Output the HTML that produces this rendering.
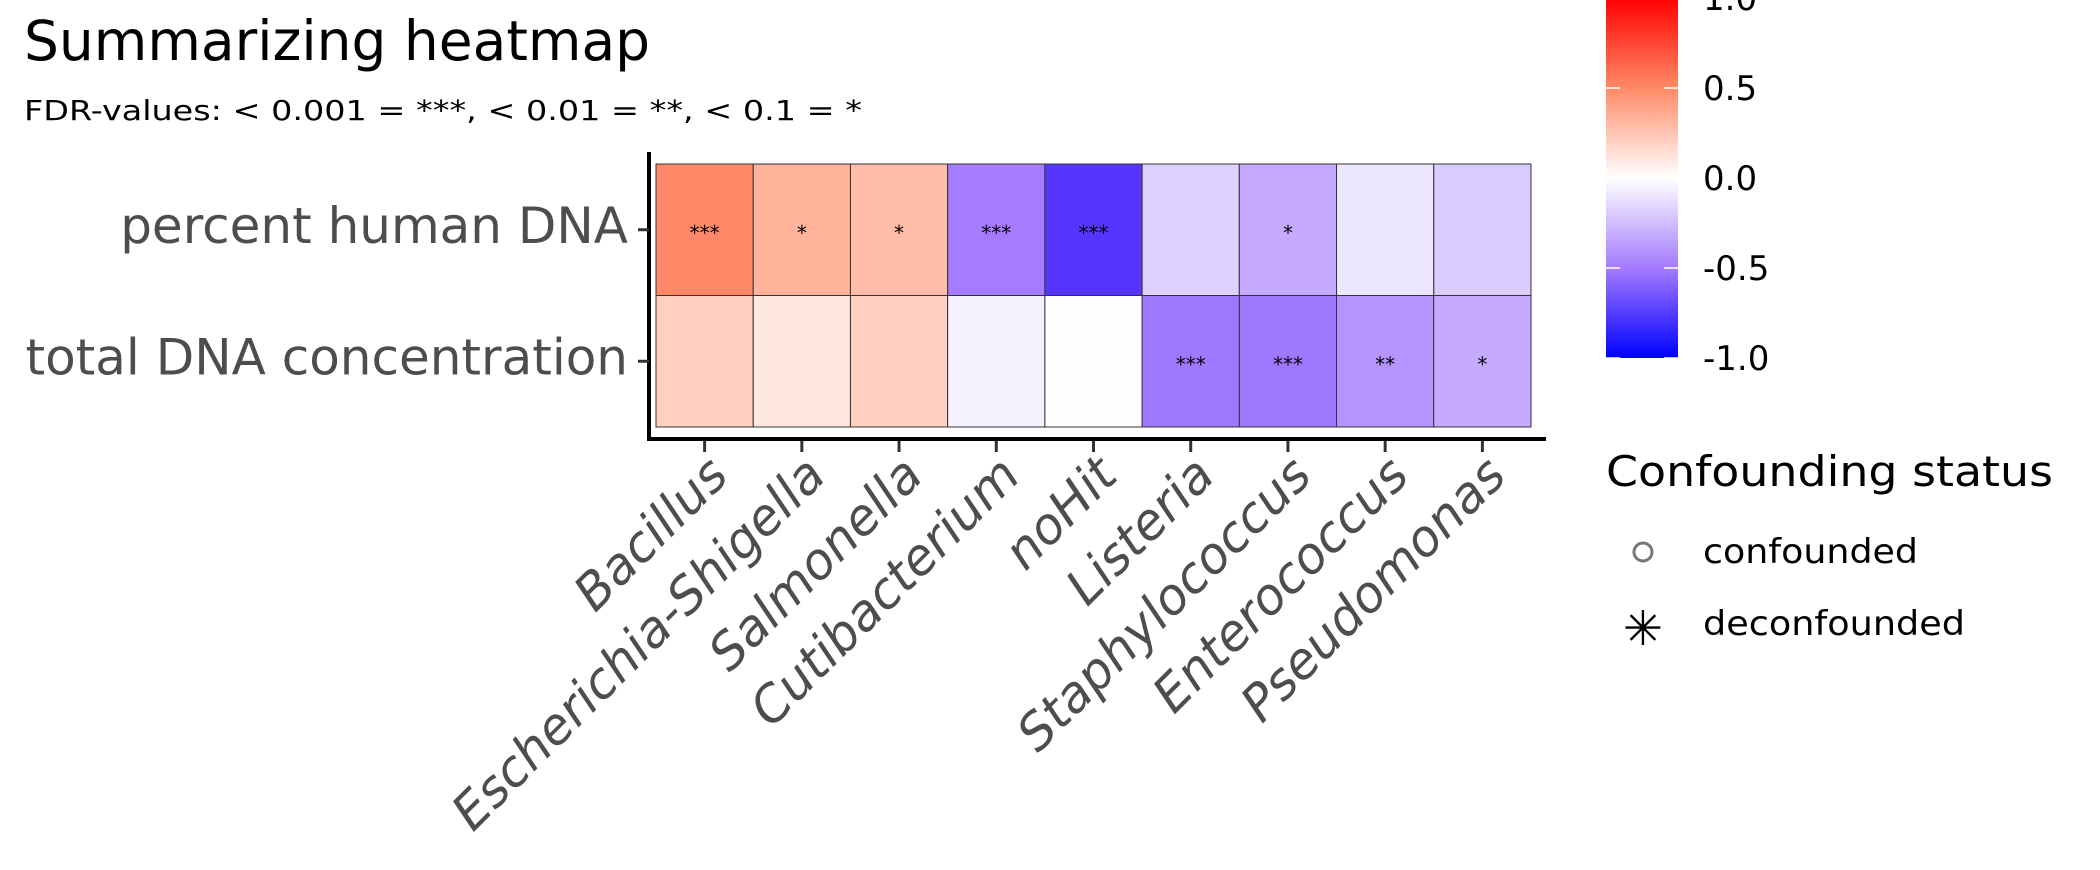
<!DOCTYPE html>
<html><head><meta charset="utf-8"><style>
html,body{margin:0;padding:0;background:#fff;}
svg{display:block;font-family:"DejaVu Sans","Liberation Sans",sans-serif;}
</style></head><body>
<svg id="chart" width="2100" height="870" viewBox="0 0 2100 870" xmlns="http://www.w3.org/2000/svg">
<defs>
<linearGradient id="cbar" x1="0" y1="0" x2="0" y2="1">
<stop offset="0" stop-color="#ff0000"/>
<stop offset="0.25" stop-color="#ff8a66"/>
<stop offset="0.5" stop-color="#ffffff"/>
<stop offset="0.75" stop-color="#a57bff"/>
<stop offset="1" stop-color="#0000ff"/>
</linearGradient>
</defs>
<text x="24" y="60" font-size="55" fill="#000">Summarizing heatmap</text>
<text x="24" y="120" font-size="28" fill="#000" textLength="838" lengthAdjust="spacingAndGlyphs">FDR-values: &lt; 0.001 = ***, &lt; 0.01 = **, &lt; 0.1 = *</text>
<g id="plot"></g>
<g>
<rect x="1606" y="-2" width="72" height="360" fill="url(#cbar)"/>
<g id="cbticks"></g>
</g>
<g>
<text x="1606" y="486" font-size="42" fill="#000" textLength="447" lengthAdjust="spacingAndGlyphs">Confounding status</text>
<circle cx="1643" cy="552" r="9" fill="none" stroke="#777" stroke-width="3"/>
<text x="1703" y="563" font-size="34" fill="#000" textLength="215" lengthAdjust="spacingAndGlyphs">confounded</text>
<text x="1643" y="645" font-size="48" text-anchor="middle" fill="#000">✳</text>
<text x="1703" y="635" font-size="34" fill="#000" textLength="262" lengthAdjust="spacingAndGlyphs">deconfounded</text>
</g>
</svg>
<script>
const categories = ["Bacillus","Escherichia-Shigella","Salmonella","Cutibacterium","noHit","Listeria","Staphylococcus","Enterococcus","Pseudomonas"];
const rows = ["percent human DNA","total DNA concentration"];
const humanValues = [0.62,0.40,0.35,-0.50,-0.80,-0.22,-0.35,-0.12,-0.24];
const concValues = [0.25,0.12,0.25,-0.06,-0.01,-0.52,-0.52,-0.42,-0.35];
const humanStars = ["***","*","*","***","***","","*","",""];
const concStars = ["","","","","","***","***","**","*"];
const cbTicks = [1.0,0.5,0.0,-0.5,-1.0];
const cbLabels = ["1.0","0.5","0.0","-0.5","-1.0"];

const NS="http://www.w3.org/2000/svg";
const X0=656, X1=1531, Y0=164, Y1=427;
const colW=(X1-X0)/categories.length, rowH=(Y1-Y0)/rows.length;
function xPos(i){return X0+i*colW;}
function yPos(j){return Y0+j*rowH;}
function cbY(v){return 178-v*180;}
function lerp(a,b,t){return a+(b-a)*t;}
const redA=[[0,[255,255,255]],[0.25,[255,208,192]],[0.5,[255,160,130]],[0.75,[255,110,75]],[1,[255,0,0]]];
const blueA=[[0,[255,255,255]],[0.25,[218,202,255]],[0.5,[165,123,255]],[0.75,[108,68,255]],[1,[0,0,255]]];
function color(v){
  const A=v>=0?redA:blueA; const t=Math.min(1,Math.abs(v));
  for(let k=1;k<A.length;k++){ if(t<=A[k][0]){ const f=(t-A[k-1][0])/(A[k][0]-A[k-1][0]);
    const c=A[k-1][1].map((x,i)=>Math.round(lerp(x,A[k][1][i],f))); return `rgb(${c.join(",")})`; } }
  return `rgb(${A[A.length-1][1].join(",")})`;
}
function mk(tag,attrs,parent){const e=document.createElementNS(NS,tag);for(const k in attrs)e.setAttribute(k,attrs[k]);parent.appendChild(e);return e;}
const plot=document.getElementById('plot');
const series=[humanValues,concValues], stars=[humanStars,concStars];
for(let j=0;j<rows.length;j++){
  for(let i=0;i<categories.length;i++){
    const r=mk('rect',{x:xPos(i),y:yPos(j),width:colW,height:rowH,fill:color(series[j][i]),stroke:'#333','stroke-width':1},plot);
    
    
    if(stars[j][i]){
      const t=mk('text',{x:xPos(i)+colW/2,y:yPos(j)+rowH/2+10,'font-size':20,'text-anchor':'middle',fill:'#000'},plot);
      t.textContent=stars[j][i];
      
      
    }
  }
}
const ya=mk('line',{x1:649,y1:152,x2:649,y2:441,stroke:'#000','stroke-width':4},plot);


const xa=mk('line',{x1:647,y1:439,x2:1546,y2:439,stroke:'#000','stroke-width':4},plot);


for(let j=0;j<rows.length;j++){
  const cy=yPos(j)+rowH/2;
  const tk=mk('line',{x1:638,y1:cy,x2:649,y2:cy,stroke:'#333','stroke-width':3},plot);
  
  
  const t=mk('text',{x:628,y:cy+13,'font-size':50,'text-anchor':'end',fill:'#4d4d4d'},plot);
  t.textContent=rows[j];
  
  
}
for(let i=0;i<categories.length;i++){
  const cx=xPos(i)+colW/2;
  const tk=mk('line',{x1:cx,y1:441,x2:cx,y2:452,stroke:'#333','stroke-width':3},plot);
  
  
  const ax=cx+26, ay=478;
  const t=mk('text',{x:ax,y:ay,'font-size':50,'font-style':'italic','text-anchor':'end',fill:'#4d4d4d',transform:`rotate(-45 ${ax} ${ay})`},plot);
  t.textContent=categories[i];
  
  
}
const cbg=document.getElementById('cbticks');
for(let k=0;k<cbTicks.length;k++){
  const y=cbY(cbTicks[k]);
  const l1=mk('line',{x1:1606,y1:y,x2:1620,y2:y,stroke:'#fff','stroke-width':1.5},cbg);
  
  
  const l2=mk('line',{x1:1664,y1:y,x2:1678,y2:y,stroke:'#fff','stroke-width':1.5},cbg);
  
  
  const t=mk('text',{x:1703,y:y+12,'font-size':34,fill:'#000'},cbg);
  t.textContent=cbLabels[k];
  
  
}
</script>
</body></html>
